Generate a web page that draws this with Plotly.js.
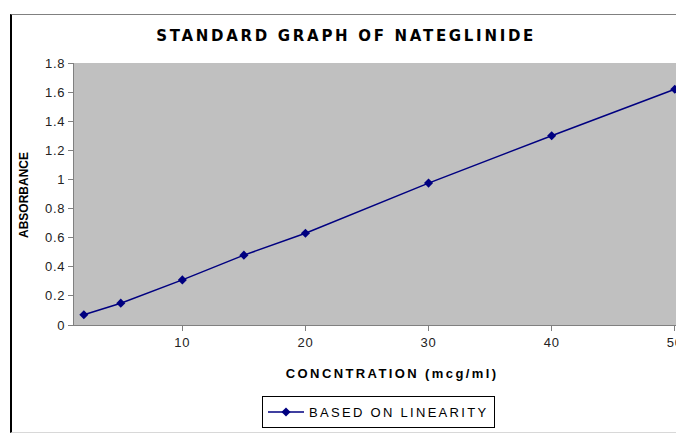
<!DOCTYPE html>
<html>
<head>
<meta charset="utf-8">
<script src="https://cdn.plot.ly/plotly-3.0.1.min.js"></script>
<style>
  html, body { margin: 0; padding: 0; background: #fff; }
  #wrap { position: relative; width: 676px; height: 434px; overflow: hidden; }
  #chart { position: absolute; left: 0; top: 0; width: 676px; height: 434px; }
  #frame { position: absolute; left: 10px; top: 14px; width: 680px; height: 417px;
           border-left: 2px solid #000; border-top: 1px solid #808080; border-bottom: 1px solid #d8d8d8;
           pointer-events: none; }
  .gtitle { letter-spacing: 2.7px; }
  .xtitle-ann { letter-spacing: 2.4px; }
  .legendtext { letter-spacing: 2.3px; }
  .xtick text, .ytick text { letter-spacing: 0.8px; }
</style>
</head>
<body>
<div id="wrap">
  <div id="chart"></div>
  <div id="frame"></div>
</div>
<script>
  var concentration = [2, 5, 10, 15, 20, 30, 40, 50];
  var absorbance = [0.07, 0.15, 0.31, 0.48, 0.63, 0.975, 1.30, 1.62];
  var seriesName = 'BASED ON LINEARITY';
  var xTicks = [10, 20, 30, 40, 50];
  var yTicks = [0, 0.2, 0.4, 0.6, 0.8, 1, 1.2, 1.4, 1.6, 1.8];

  var trace = {
    x: concentration,
    y: absorbance,
    name: seriesName,
    type: 'scatter',
    mode: 'lines+markers',
    line: { color: '#000080', width: 1.5 },
    marker: { symbol: 'diamond', size: 7, color: '#000080' },
    showlegend: true
  };

  var layout = {
    width: 676,
    height: 434,
    margin: { l: 74, r: 0, t: 63, b: 109 },
    paper_bgcolor: 'rgba(0,0,0,0)',
    plot_bgcolor: '#c0c0c0',
    font: { family: 'Liberation Sans, Arial, sans-serif', size: 12, color: '#000' },
    title: {
      text: '<b>STANDARD GRAPH OF NATEGLINIDE</b>',
      font: { family: 'DejaVu Sans, Liberation Sans, sans-serif', size: 15, color: '#000' },
      xref: 'container', x: 0.512, xanchor: 'center',
      yref: 'container', y: 1 - 36 / 434, yanchor: 'middle'
    },
    xaxis: {
      range: [1.2, 50.1],
      tickvals: xTicks,
      ticktext: xTicks.map(String),
      ticks: 'outside', ticklen: 5, tickcolor: '#808080',
      showline: true, linecolor: '#808080', linewidth: 1,
      showgrid: false, zeroline: false,
      tickfont: { size: 13, color: '#222' },
      ticklabeloverflow: 'allow',
      fixedrange: true
    },
    yaxis: {
      range: [0, 1.8],
      tickvals: yTicks,
      ticktext: yTicks.map(String),
      ticks: 'outside', ticklen: 5, tickcolor: '#808080',
      showline: true, linecolor: '#808080', linewidth: 1,
      showgrid: false, zeroline: false,
      tickfont: { size: 13, color: '#222' },
      fixedrange: true
    },
    annotations: [
      {
        text: '<b>ABSORBANCE</b>',
        xref: 'paper', yref: 'paper',
        x: (24 - 74) / 602, y: (325 - 195) / 262,
        xanchor: 'center', yanchor: 'middle',
        textangle: -90, showarrow: false,
        font: { size: 12, color: '#000' }
      },
      {
        text: '<b>CONCNTRATION (mcg/ml)</b>',
        xref: 'paper', yref: 'paper',
        x: (392 - 74) / 602, y: (325 - 373) / 262,
        xanchor: 'center', yanchor: 'middle',
        showarrow: false,
        captureevents: false,
        font: { size: 13, color: '#000' }
      }
    ],
    showlegend: true,
    legend: {
      x: (262 - 74) / 602, xanchor: 'left',
      y: (325 - 396) / 262, yanchor: 'top',
      bordercolor: '#000', borderwidth: 1,
      bgcolor: '#fff',
      font: { size: 13, color: '#000' },
      orientation: 'h',
      itemwidth: 36
    }
  };

  Plotly.newPlot('chart', [trace], layout, { staticPlot: true, displayModeBar: false }).then(function () {
    var anns = document.querySelectorAll('.annotation');
    if (anns.length > 1) { anns[1].classList.add('xtitle-ann'); }
  });
</script>
</body>
</html>
